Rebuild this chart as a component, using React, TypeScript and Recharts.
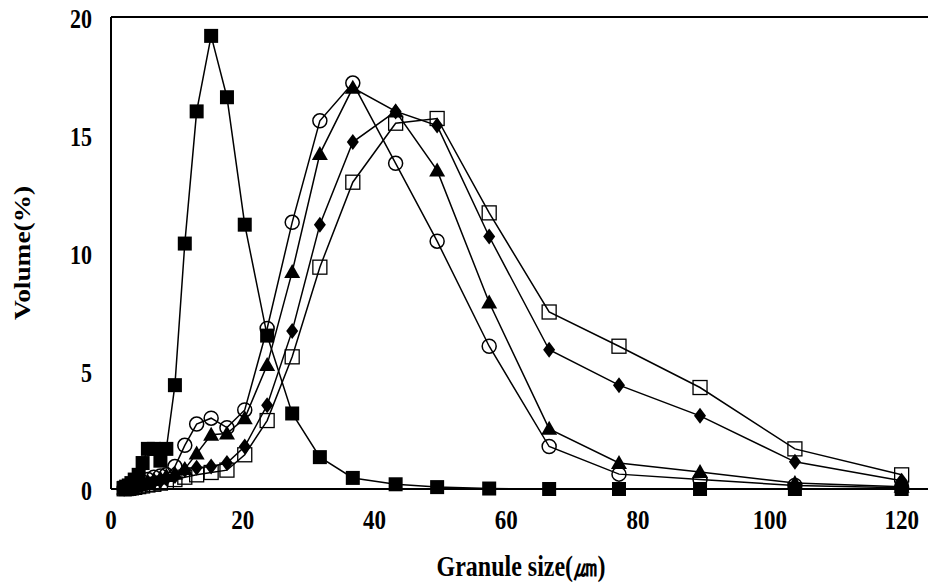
import { Label, Line, LineChart, ReferenceLine, XAxis, YAxis } from "recharts";

const sizes = [
	2.0, 2.3, 2.7, 3.1, 3.6, 4.2, 4.8, 5.6, 6.5, 7.5, 8.4, 9.7, 11.2, 13.0, 15.2, 17.6, 20.3, 23.7, 27.5, 31.7,
	36.7, 43.2, 49.5, 57.4, 66.5, 77.1, 89.4, 103.8, 120,
];

const filledSquare = [
	0.05, 0.1, 0.15, 0.25, 0.4, 0.6, 1.1, 1.7, 1.7, 1.2, 1.7, 4.4, 10.4, 16.0, 19.2, 16.6, 11.2, 6.5, 3.2, 1.35,
	0.47, 0.2, 0.08, 0.02, 0, 0, 0, 0, 0,
];
const openCircle = [
	0.02, 0.04, 0.06, 0.1, 0.15, 0.2, 0.3, 0.4, 0.5, 0.55, 0.6, 0.95, 1.85, 2.75, 3.0, 2.6, 3.35, 6.8, 11.3, 15.6,
	17.2, 13.8, 10.5, 6.05, 1.8, 0.63, 0.4, 0.15, 0.05,
];
const filledTriangle = [
	0.02, 0.03, 0.05, 0.08, 0.12, 0.17, 0.22, 0.3, 0.38, 0.45, 0.55, 0.65, 0.85, 1.5, 2.3, 2.35, 3.0, 5.25, 9.2,
	14.2, 17.0, 16.0, 13.5, 7.9, 2.55, 1.1, 0.72, 0.25, 0.1,
];
const filledDiamond = [
	0.02, 0.03, 0.05, 0.07, 0.1, 0.14, 0.2, 0.25, 0.3, 0.35, 0.45, 0.55, 0.8, 0.9, 0.95, 1.1, 1.8, 3.55, 6.7, 11.2,
	14.7, 16.0, 15.4, 10.7, 5.9, 4.4, 3.1, 1.15, 0.35,
];
const openSquare = [
	0.01, 0.02, 0.03, 0.05, 0.07, 0.1, 0.13, 0.17, 0.2, 0.25, 0.3, 0.4, 0.5, 0.6, 0.7, 0.8, 1.45, 2.9, 5.6, 9.4,
	13.0, 15.5, 15.7, 11.7, 7.5, 6.05, 4.3, 1.7, 0.6,
];

const xTicks = [0, 20, 40, 60, 80, 100, 120];
const yTicks = [0, 5, 10, 15, 20];

const data = sizes.map((size, i) => ({
	size,
	filledSquare: filledSquare[i],
	openCircle: openCircle[i],
	filledTriangle: filledTriangle[i],
	filledDiamond: filledDiamond[i],
	openSquare: openSquare[i],
}));

const font = "'Liberation Serif', 'Times New Roman', serif";
const textStyle = { fontFamily: font, fontWeight: 700, fill: "#000" };

type TickProps = { x?: number; y?: number; payload?: { value: number } };

// the original figure is stretched vertically, so text is drawn taller than wide
const XTick = (p: TickProps) => (
	<text
		transform={`translate(${p.x},${p.y}) scale(1,1.2)`}
		textAnchor="middle"
		dominantBaseline="central"
		style={{ ...textStyle, fontSize: 23 }}
	>
		{p.payload?.value}
	</text>
);
const YTick = (p: TickProps) => (
	<text
		transform={`translate(${p.x},${(p.y ?? 0) + 2}) scale(1,1.2)`}
		textAnchor="end"
		dominantBaseline="central"
		style={{ ...textStyle, fontSize: 22 }}
	>
		{p.payload?.value}
	</text>
);

type DotProps = { cx?: number; cy?: number; index?: number };

const squareDot = (p: DotProps) => (
	<rect key={`fs-${p.index}`} x={(p.cx ?? 0) - 7} y={(p.cy ?? 0) - 7} width={14} height={14} fill="#000" />
);
const openSquareDot = (p: DotProps) => (
	<rect
		key={`os-${p.index}`}
		x={(p.cx ?? 0) - 7}
		y={(p.cy ?? 0) - 7}
		width={14}
		height={14}
		fill="none"
		stroke="#000"
		strokeWidth={1.3}
	/>
);
const circleDot = (p: DotProps) => (
	<circle key={`oc-${p.index}`} cx={p.cx} cy={p.cy} r={7} fill="none" stroke="#000" strokeWidth={1.5} />
);
const triangleDot = (p: DotProps) => {
	const x = p.cx ?? 0;
	const y = p.cy ?? 0;
	return <polygon key={`ft-${p.index}`} points={`${x},${y - 8} ${x - 8},${y + 6} ${x + 8},${y + 6}`} fill="#000" />;
};
const diamondDot = (p: DotProps) => {
	const x = p.cx ?? 0;
	const y = p.cy ?? 0;
	return (
		<polygon key={`fd-${p.index}`} points={`${x},${y - 8} ${x + 6},${y} ${x},${y + 8} ${x - 6},${y}`} fill="#000" />
	);
};

export default function App() {
	return (
		<div style={{ position: "absolute", left: 0, top: 0, width: 928, height: 583, background: "#fff" }}>
			<LineChart width={928} height={583} data={data} margin={{ top: 17, right: 0, bottom: 0, left: 0 }}>
				<XAxis
					type="number"
					dataKey="size"
					domain={[0, 124]}
					ticks={xTicks}
					allowDataOverflow
					axisLine={{ stroke: "#000", strokeWidth: 2 }}
					tickLine={false}
					tickSize={0}
					tickMargin={30}
					height={94}
					tick={<XTick />}
				>
					<Label
						content={() => (
							<text
								transform="translate(521,566) scale(1,1.2)"
								textAnchor="middle"
								dominantBaseline="central"
								style={{ ...textStyle, fontSize: 24 }}
							>
								Granule size(㎛)
							</text>
						)}
					/>
				</XAxis>
				<YAxis
					type="number"
					domain={[0, 20]}
					ticks={yTicks}
					axisLine={{ stroke: "#000", strokeWidth: 2 }}
					tickLine={false}
					tickSize={0}
					tickMargin={19}
					width={111}
					tick={<YTick />}
				>
					<Label
						content={() => (
							<text
								transform="translate(22,253) rotate(-90) scale(1.14,1)"
								textAnchor="middle"
								dominantBaseline="central"
								style={{ ...textStyle, fontSize: 24 }}
							>
								Volume(%)
							</text>
						)}
					/>
				</YAxis>
				<ReferenceLine y={20} stroke="#000" strokeWidth={2} />
				<Line dataKey="filledSquare" stroke="#000" strokeWidth={1.5} dot={squareDot} isAnimationActive={false} />
				<Line dataKey="openSquare" stroke="#000" strokeWidth={1.5} dot={openSquareDot} isAnimationActive={false} />
				<Line dataKey="filledDiamond" stroke="#000" strokeWidth={1.5} dot={diamondDot} isAnimationActive={false} />
				<Line dataKey="filledTriangle" stroke="#000" strokeWidth={1.5} dot={triangleDot} isAnimationActive={false} />
				<Line dataKey="openCircle" stroke="#000" strokeWidth={1.5} dot={circleDot} isAnimationActive={false} />
			</LineChart>
		</div>
	);
}
